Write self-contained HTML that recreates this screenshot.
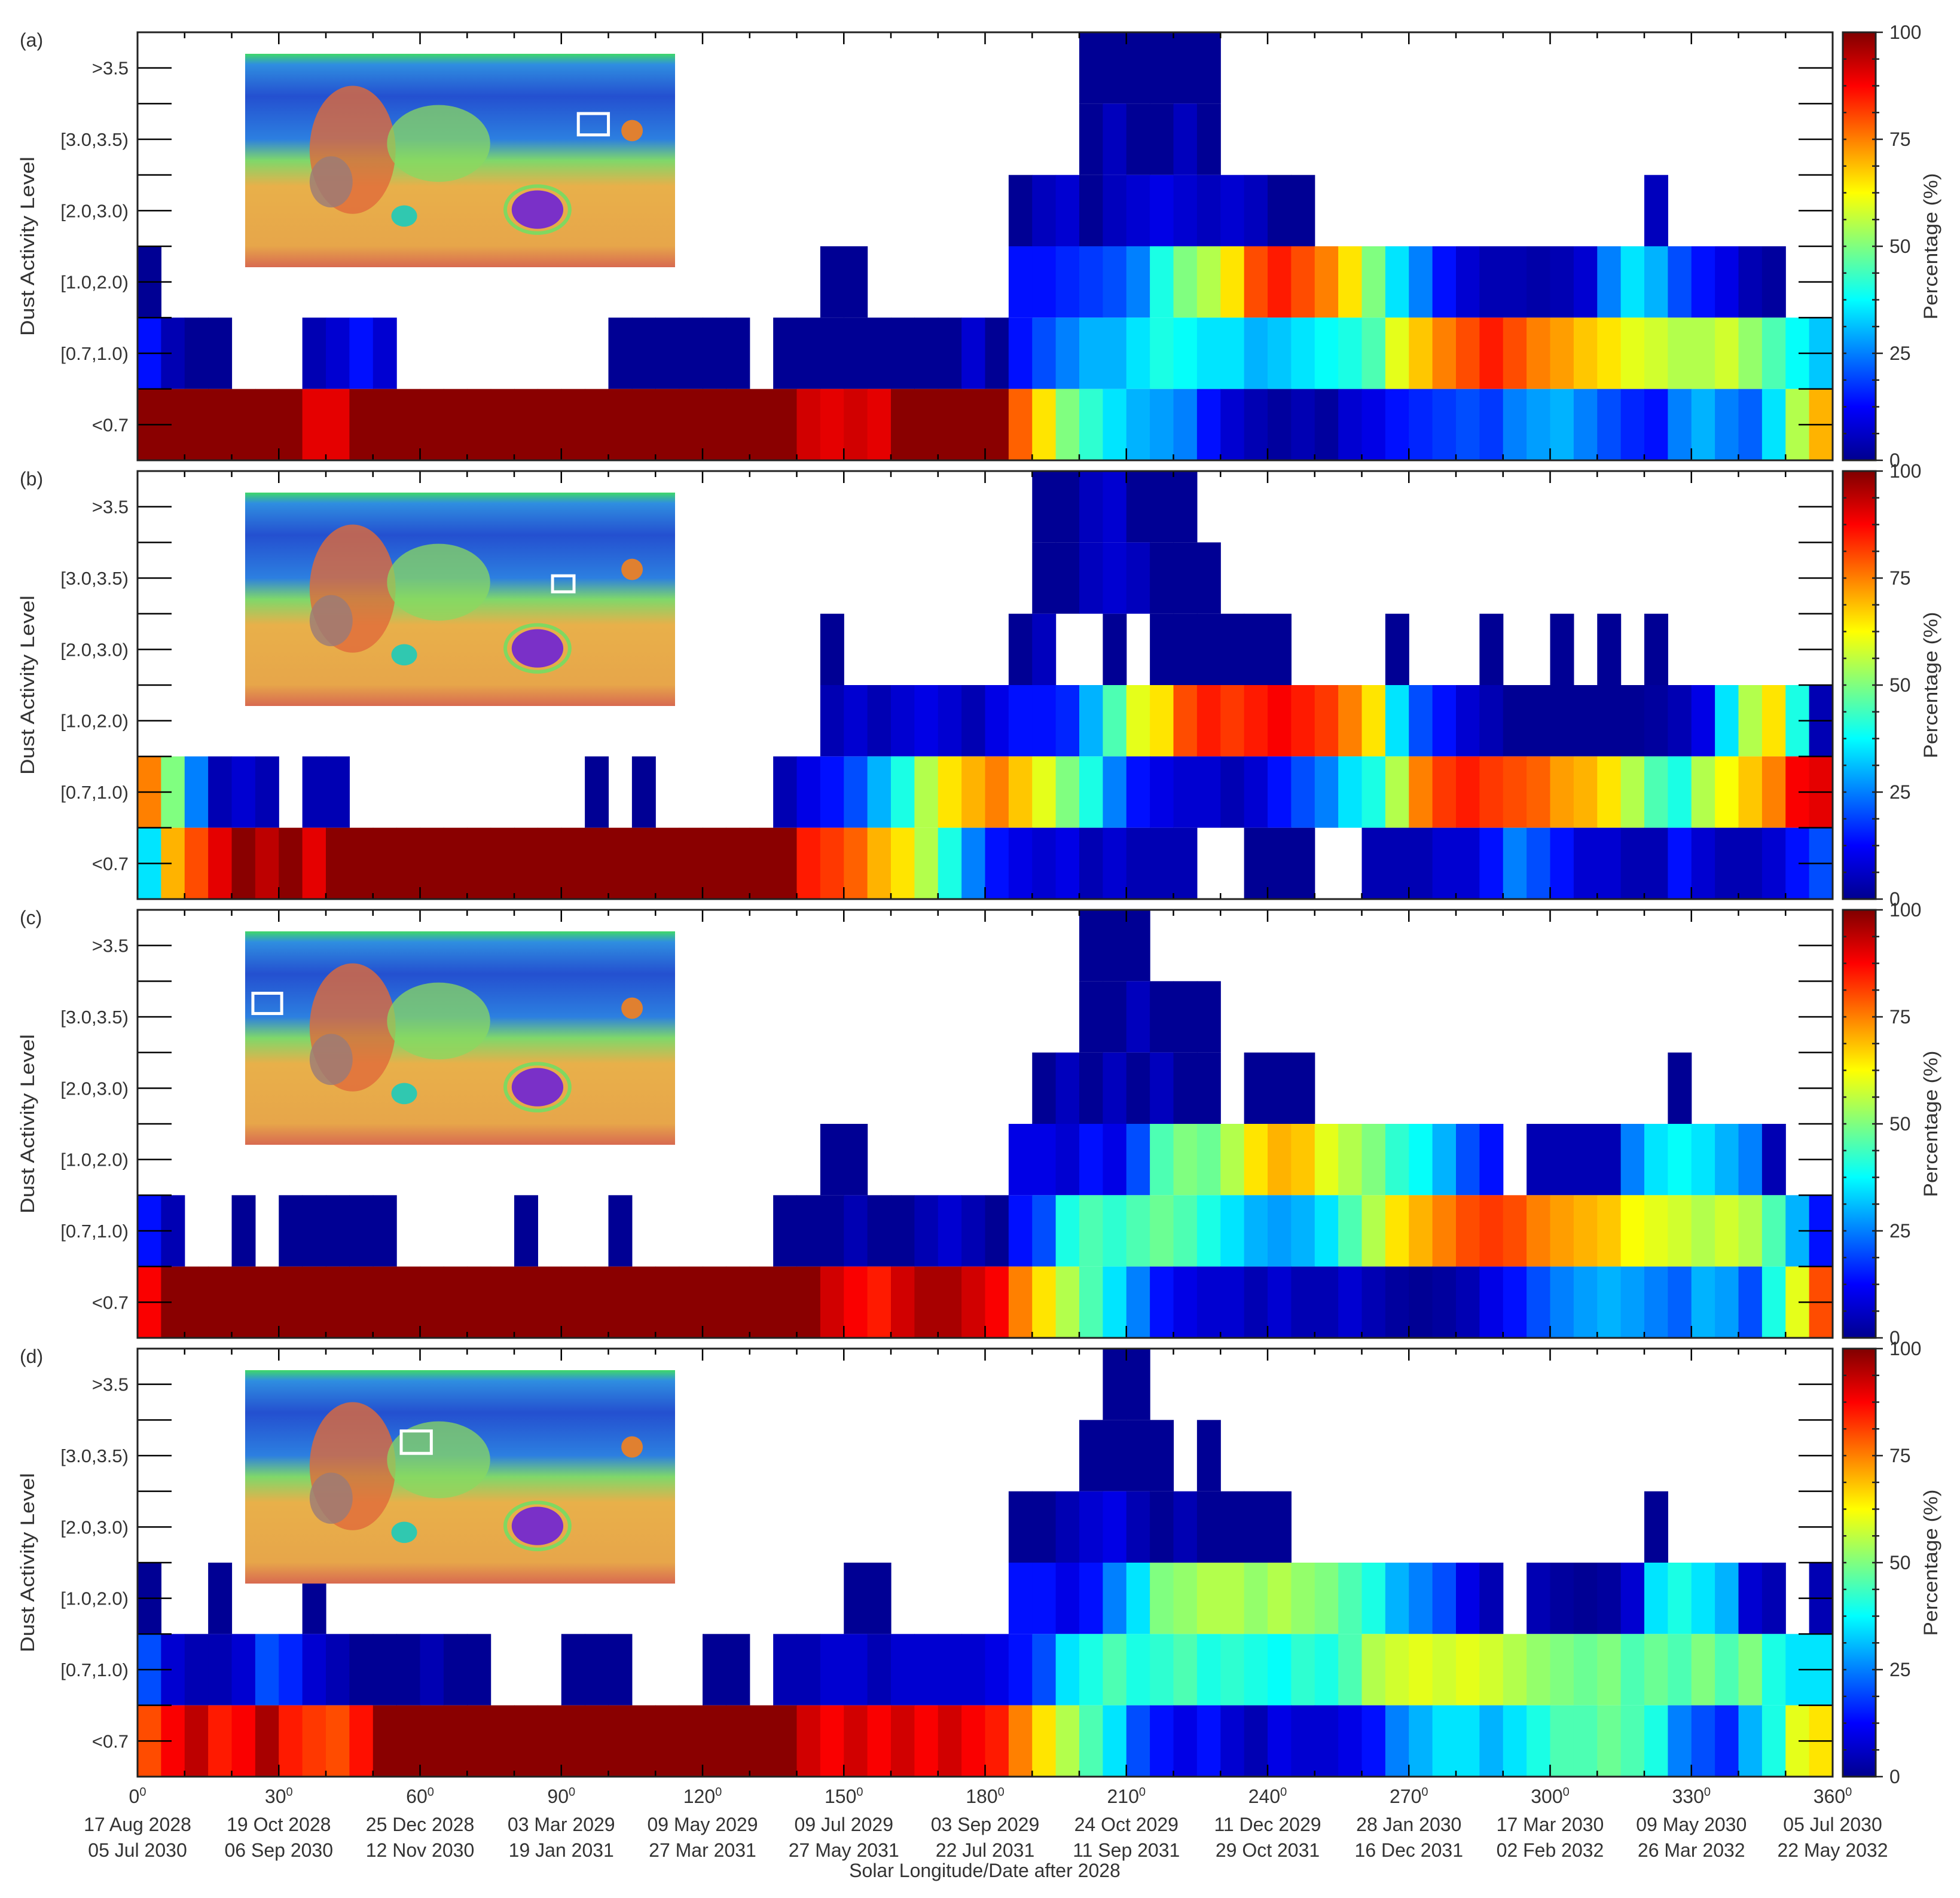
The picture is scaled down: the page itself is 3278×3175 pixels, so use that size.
<!DOCTYPE html>
<html><head><meta charset="utf-8"><title>Dust activity heatmaps</title>
<style>
html,body{margin:0;padding:0;background:#fff;}
svg{display:block;font-family:"Liberation Sans",sans-serif;}
</style></head>
<body>
<svg id="fig" width="3278" height="3175" viewBox="0 0 3278 3175" xmlns="http://www.w3.org/2000/svg">
<defs>
<linearGradient id="mapGrad" x1="0" y1="0" x2="0" y2="1">
<stop offset="0" stop-color="#3fd86a"/><stop offset="0.05" stop-color="#2f8ee0"/><stop offset="0.2" stop-color="#2450d0"/><stop offset="0.4" stop-color="#2c7fe0"/><stop offset="0.5" stop-color="#7fd86a"/><stop offset="0.62" stop-color="#e8b04a"/><stop offset="0.9" stop-color="#e7a64a"/><stop offset="1" stop-color="#d86a50"/>
</linearGradient>
<linearGradient id="cbGrad" x1="0" y1="1" x2="0" y2="0">
<stop offset="0" stop-color="#00008f"/><stop offset="0.125" stop-color="#0000ff"/><stop offset="0.375" stop-color="#00ffff"/><stop offset="0.625" stop-color="#ffff00"/><stop offset="0.875" stop-color="#ff0000"/><stop offset="1" stop-color="#800000"/>
</linearGradient>
</defs>
</svg>
<script>
// categories
const rowLabels = [">3.5","[3.0,3.5)","[2.0,3.0)","[1.0,2.0)","[0.7,1.0)","<0.7"];
const panelLetters = ["(a)","(b)","(c)","(d)"];
const lsTicks = [0,30,60,90,120,150,180,210,240,270,300,330,360];
const dateLine1 = ["17 Aug 2028","19 Oct 2028","25 Dec 2028","03 Mar 2029","09 May 2029","09 Jul 2029","03 Sep 2029","24 Oct 2029","11 Dec 2029","28 Jan 2030","17 Mar 2030","09 May 2030","05 Jul 2030"];
const dateLine2 = ["05 Jul 2030","06 Sep 2030","12 Nov 2030","19 Jan 2031","27 Mar 2031","27 May 2031","22 Jul 2031","11 Sep 2031","29 Oct 2031","16 Dec 2031","02 Feb 2032","26 Mar 2032","22 May 2032"];
const cbTicks = [0,25,50,75,100];
const binWidthDeg = 5;
const _ = null;
// panel (a), rows top->bottom, 72 bins of 5 deg, percentage (null = no data)
const a0 = [_,_,_,_,_,_,_,_,_,_,_,_,_,_,_,_,_,_,_,_,_,_,_,_,_,_,_,_,_,_,_,_,_,_,_,_,_,_,_,_,2,2,2,2,2,2,_,_,_,_,_,_,_,_,_,_,_,_,_,_,_,_,_,_,_,_,_,_,_,_,_,_];
const a1 = [_,_,_,_,_,_,_,_,_,_,_,_,_,_,_,_,_,_,_,_,_,_,_,_,_,_,_,_,_,_,_,_,_,_,_,_,_,_,_,_,2,6,2,2,6,2,_,_,_,_,_,_,_,_,_,_,_,_,_,_,_,_,_,_,_,_,_,_,_,_,_,_];
const a2 = [_,_,_,_,_,_,_,_,_,_,_,_,_,_,_,_,_,_,_,_,_,_,_,_,_,_,_,_,_,_,_,_,_,_,_,_,_,2,6,8,2,6,8,10,8,6,8,6,2,2,_,_,_,_,_,_,_,_,_,_,_,_,_,_,6,_,_,_,_,_,_,_];
const a3 = [2,_,_,_,_,_,_,_,_,_,_,_,_,_,_,_,_,_,_,_,_,_,_,_,_,_,_,_,_,2,2,_,_,_,_,_,_,14,14,16,18,20,25,40,50,55,65,80,85,80,75,65,50,35,25,14,8,5,5,4,5,8,25,35,30,20,14,10,5,3,_,_];
const a4 = [14,5,2,2,_,_,_,5,8,14,8,_,_,_,_,_,_,_,_,_,2,2,2,2,2,2,_,2,2,2,2,2,2,2,2,8,2,14,20,25,30,30,35,40,38,35,35,30,32,35,38,40,45,60,68,75,80,85,80,75,72,68,65,60,58,55,55,58,52,45,38,32];
const a5 = [99,99,99,99,99,99,99,90,90,99,99,99,99,99,99,99,99,99,99,99,99,99,99,99,99,99,99,99,92,90,92,90,99,99,99,99,99,78,65,50,42,35,30,28,25,14,8,5,3,5,3,8,10,14,16,18,20,18,25,28,30,25,20,16,14,25,30,25,22,35,55,70];
// panel (b)
const b0 = [_,_,_,_,_,_,_,_,_,_,_,_,_,_,_,_,_,_,_,_,_,_,_,_,_,_,_,_,_,_,_,_,_,_,_,_,_,_,2,2,6,8,2,2,2,_,_,_,_,_,_,_,_,_,_,_,_,_,_,_,_,_,_,_,_,_,_,_,_,_,_,_];
const b1 = [_,_,_,_,_,_,_,_,_,_,_,_,_,_,_,_,_,_,_,_,_,_,_,_,_,_,_,_,_,_,_,_,_,_,_,_,_,_,2,2,6,8,6,2,2,2,_,_,_,_,_,_,_,_,_,_,_,_,_,_,_,_,_,_,_,_,_,_,_,_,_,_];
const b2 = [_,_,_,_,_,_,_,_,_,_,_,_,_,_,_,_,_,_,_,_,_,_,_,_,_,_,_,_,_,2,_,_,_,_,_,_,_,2,6,_,_,2,_,2,2,2,2,2,2,_,_,_,_,2,_,_,_,2,_,_,2,_,2,_,2,_,_,_,_,_,_,_];
const b3 = [_,_,_,_,_,_,_,_,_,_,_,_,_,_,_,_,_,_,_,_,_,_,_,_,_,_,_,_,_,5,8,5,8,10,8,5,10,14,14,16,30,45,60,65,80,85,82,85,88,85,82,75,65,35,20,14,8,5,2,2,2,2,2,2,3,5,10,35,55,65,40,5];
const b4 = [75,50,25,5,8,5,_,5,5,_,_,_,_,_,_,_,_,_,_,2,_,2,_,_,_,_,_,5,10,14,20,30,40,55,65,70,75,68,60,50,40,25,14,10,8,8,5,8,14,20,25,35,40,55,75,82,85,82,80,78,72,70,65,55,45,40,55,62,68,75,88,90];
const b5 = [35,70,80,90,99,94,99,90,99,99,99,99,99,99,99,99,99,99,99,99,99,99,99,99,99,99,99,99,85,82,78,70,65,55,40,25,14,10,8,10,5,8,5,5,5,_,_,2,2,2,_,_,5,5,5,8,8,14,25,20,14,8,8,5,5,14,8,5,5,8,14,20];
// panel (c)
const c0 = [_,_,_,_,_,_,_,_,_,_,_,_,_,_,_,_,_,_,_,_,_,_,_,_,_,_,_,_,_,_,_,_,_,_,_,_,_,_,_,_,2,2,2,_,_,_,_,_,_,_,_,_,_,_,_,_,_,_,_,_,_,_,_,_,_,_,_,_,_,_,_,_];
const c1 = [_,_,_,_,_,_,_,_,_,_,_,_,_,_,_,_,_,_,_,_,_,_,_,_,_,_,_,_,_,_,_,_,_,_,_,_,_,_,_,_,2,2,6,2,2,2,_,_,_,_,_,_,_,_,_,_,_,_,_,_,_,_,_,_,_,_,_,_,_,_,_,_];
const c2 = [_,_,_,_,_,_,_,_,_,_,_,_,_,_,_,_,_,_,_,_,_,_,_,_,_,_,_,_,_,_,_,_,_,_,_,_,_,_,2,6,2,6,2,6,2,2,_,2,2,2,_,_,_,_,_,_,_,_,_,_,_,_,_,_,_,2,_,_,_,_,_,_];
const c3 = [_,_,_,_,_,_,_,_,_,_,_,_,_,_,_,_,_,_,_,_,_,_,_,_,_,_,_,_,_,2,2,_,_,_,_,_,_,10,10,8,14,10,20,45,50,48,55,65,70,68,60,55,50,42,38,30,20,14,_,5,5,5,5,25,35,38,35,30,25,5,_,_];
const c4 = [14,5,_,_,2,_,2,2,2,2,2,_,_,_,_,_,2,_,_,_,2,_,_,_,_,_,_,2,2,2,5,2,2,5,8,5,2,14,20,40,45,42,45,48,45,40,35,30,28,30,35,45,55,65,70,75,80,82,80,75,72,70,68,62,60,58,55,58,55,45,30,14];
const c5 = [88,99,99,99,99,99,99,99,99,99,99,99,99,99,99,99,99,99,99,99,99,99,99,99,99,99,99,99,99,92,88,85,92,96,96,92,88,75,65,55,45,35,25,14,10,8,8,5,8,5,5,8,5,3,2,3,5,10,14,20,25,28,30,28,25,22,30,28,20,40,60,80];
// panel (d)
const d0 = [_,_,_,_,_,_,_,_,_,_,_,_,_,_,_,_,_,_,_,_,_,_,_,_,_,_,_,_,_,_,_,_,_,_,_,_,_,_,_,_,_,2,2,_,_,_,_,_,_,_,_,_,_,_,_,_,_,_,_,_,_,_,_,_,_,_,_,_,_,_,_,_];
const d1 = [_,_,_,_,_,_,_,_,_,_,_,_,_,_,_,_,_,_,_,_,_,_,_,_,_,_,_,_,_,_,_,_,_,_,_,_,_,_,_,_,2,2,2,2,_,2,_,_,_,_,_,_,_,_,_,_,_,_,_,_,_,_,_,_,_,_,_,_,_,_,_,_];
const d2 = [_,_,_,_,_,_,_,_,_,_,_,_,_,_,_,_,_,_,_,_,_,_,_,_,_,_,_,_,_,_,_,_,_,_,_,_,_,2,2,5,8,10,5,2,5,2,2,2,2,_,_,_,_,_,_,_,_,_,_,_,_,_,_,_,2,_,_,_,_,_,_,_];
const d3 = [2,_,_,2,_,_,_,2,_,_,_,_,_,_,_,_,_,_,_,_,_,_,_,_,_,_,_,_,_,_,2,2,_,_,_,_,_,14,14,10,14,25,35,50,52,55,55,52,55,52,50,45,40,30,25,20,10,5,_,5,3,2,3,8,35,40,35,30,8,5,_,5];
const d4 = [20,8,5,5,8,20,16,8,5,2,2,2,5,2,2,_,_,_,2,2,2,_,_,_,2,2,_,5,5,8,8,5,8,8,8,8,10,14,20,35,40,45,40,42,45,40,42,40,38,42,40,45,55,58,60,58,60,58,55,52,50,48,50,45,48,45,50,45,50,40,35,35];
const d5 = [80,88,94,85,88,96,85,82,80,86,99,99,99,99,99,99,99,99,99,99,99,99,99,99,99,99,99,99,92,88,92,88,92,88,92,88,85,75,65,55,45,35,20,14,10,14,8,5,10,8,8,10,14,25,30,35,35,30,35,40,45,45,48,45,40,25,20,16,30,40,60,65];

const panelRows = [[a0,a1,a2,a3,a4,a5],[b0,b1,b2,b3,b4,b5],[c0,c1,c2,c3,c4,c5],[d0,d1,d2,d3,d4,d5]];
// inset map marker boxes (relative to map, fraction units)
const boxX = [0.775, 0.715, 0.018, 0.363];
const boxY = [0.28, 0.39, 0.29, 0.285];
const boxW = [0.07, 0.05, 0.067, 0.07];
const boxH = [0.10, 0.075, 0.095, 0.105];

const NS = "http://www.w3.org/2000/svg";
const svg = document.getElementById("fig");
const X0 = 230, X1 = 3065, PH = 716;
const panelTops = [54, 788, 1522, 2256];
const xScale = ls => X0 + (ls / 360) * (X1 - X0);
const rowH = PH / rowLabels.length;
function jet(v){
  const t = Math.max(0, Math.min(1, v / 100));
  const c = x => Math.round(255 * Math.max(0, Math.min(1, 1.5 - Math.abs(4 * t - x))));
  return `rgb(${c(3)},${c(2)},${c(1)})`;
}
function el(tag, attrs, parent){
  const e = document.createElementNS(NS, tag);
  for (const k in attrs) e.setAttribute(k, attrs[k]);
  (parent || svg).appendChild(e);
  return e;
}
function txt(s, attrs, parent){ const t = el("text", attrs, parent); t.textContent = s; return t; }

panelRows.forEach((rows, p) => {
  const top = panelTops[p];
  const g = el("g", {});
  
  
  rows.forEach((vals, r) => {
    vals.forEach((v, k) => {
      if (v === null) return;
      const xa = xScale(k * binWidthDeg), xb = xScale((k + 1) * binWidthDeg);
      const c = el("rect", {x: xa, y: top + r * rowH, width: xb - xa + 0.6, height: rowH, fill: jet(v)}, g);
      
      
    });
  });
  const mx = 410, my = top + 36, mw = 719, mh = 357;
  const mg = el("g", {}, g);
  
  
  el("rect", {x: mx, y: my, width: mw, height: mh, fill: "url(#mapGrad)"}, mg);
  el("ellipse", {cx: mx + 0.25*mw, cy: my + 0.45*mh, rx: 0.10*mw, ry: 0.30*mh, fill: "#e06a3a", opacity: 0.8}, mg);
  el("ellipse", {cx: mx + 0.20*mw, cy: my + 0.60*mh, rx: 0.05*mw, ry: 0.12*mh, fill: "#9a7a78", opacity: 0.8}, mg);
  el("ellipse", {cx: mx + 0.45*mw, cy: my + 0.42*mh, rx: 0.12*mw, ry: 0.18*mh, fill: "#8ad860", opacity: 0.75}, mg);
  el("ellipse", {cx: mx + 0.68*mw, cy: my + 0.73*mh, rx: 0.06*mw, ry: 0.09*mh, fill: "#7a30c8"}, mg);
  el("ellipse", {cx: mx + 0.68*mw, cy: my + 0.73*mh, rx: 0.075*mw, ry: 0.11*mh, fill: "none", stroke: "#80d860", "stroke-width": 6}, mg);
  el("ellipse", {cx: mx + 0.37*mw, cy: my + 0.76*mh, rx: 0.03*mw, ry: 0.05*mh, fill: "#30c8b0"}, mg);
  el("ellipse", {cx: mx + 0.90*mw, cy: my + 0.36*mh, rx: 0.025*mw, ry: 0.05*mh, fill: "#e08030"}, mg);
  const bx = el("rect", {x: mx + boxX[p]*mw, y: my + boxY[p]*mh, width: boxW[p]*mw, height: boxH[p]*mh, fill: "none", stroke: "#fff", "stroke-width": 5}, mg);
  
  
  const tg = el("g", {stroke: "#000", "stroke-width": 2.5}, g);
  
  
  for (let i = 1; i < 12; i++) {
    const y = top + i * rowH / 2;
    el("line", {x1: X0, x2: X0 + 57, y1: y, y2: y}, tg);
    el("line", {x1: X1 - 57, x2: X1, y1: y, y2: y}, tg);
  }
  for (let d = 10; d < 360; d += 10) {
    const x = xScale(d), L = d % 30 === 0 ? 20 : 10;
    el("line", {x1: x, x2: x, y1: top, y2: top + L}, tg);
    el("line", {x1: x, x2: x, y1: top + PH, y2: top + PH - L}, tg);
  }
  const fr = el("rect", {x: X0, y: top, width: X1 - X0, height: PH, fill: "none", stroke: "#222", "stroke-width": 3}, g);
  
  
  rowLabels.forEach((lab, r) => {
    const t = txt(lab, {x: 215, y: top + (r + 0.5) * rowH + 11, "text-anchor": "end", "font-size": 31, fill: "#333"}, g);
    
    
  });
  const pl = txt(panelLetters[p], {x: 33, y: top + 24, "font-size": 32, fill: "#333"}, g);
  
  
  const yt = txt("Dust Activity Level", {x: 0, y: 0, transform: `translate(57 ${top + PH/2}) rotate(-90)`, "text-anchor": "middle", "font-size": 32, fill: "#333", "textLength": 300, "lengthAdjust": "spacingAndGlyphs"}, g);
  
  
  const cx0 = 3082, cx1 = 3137;
  const cb = el("rect", {x: cx0, y: top, width: cx1 - cx0, height: PH, fill: "url(#cbGrad)", stroke: "#222", "stroke-width": 3}, g);
  
  
  for (let v = 0; v <= 100; v += 6.25) {
    const y = top + PH - v / 100 * PH, major = v % 25 === 0;
    el("line", {x1: cx1 - 6, x2: cx1 + (major ? 12 : 6), y1: y, y2: y, stroke: "#222", "stroke-width": 2.5}, g);
    el("line", {x1: cx0, x2: cx0 + 6, y1: y, y2: y, stroke: "#222", "stroke-width": 2.5}, g);
  }
  cbTicks.forEach(v => {
    const t = txt(String(v), {x: 3160, y: top + PH - v / 100 * PH + 11, "font-size": 32, fill: "#333"}, g);
    
    
  });
  const ct = txt("Percentage (%)", {x: 0, y: 0, transform: `translate(3240 ${top + PH/2}) rotate(-90)`, "text-anchor": "middle", "font-size": 32, fill: "#333", "textLength": 245, "lengthAdjust": "spacingAndGlyphs"}, g);
  
  
});

lsTicks.forEach((ls, i) => {
  const x = xScale(ls);
  const t = txt("", {x: x, y: 3016, "text-anchor": "middle", "font-size": 32, fill: "#333"});
  
  
  const t1 = document.createElementNS(NS, "tspan"); t1.textContent = String(ls); t.appendChild(t1);
  const t2 = document.createElementNS(NS, "tspan"); t2.setAttribute("dy", "-12"); t2.setAttribute("font-size", "20"); t2.textContent = "0"; t.appendChild(t2);
  const d1 = txt(dateLine1[i], {x: x, y: 3063, "text-anchor": "middle", "font-size": 32, fill: "#333"});
  
  
  const d2 = txt(dateLine2[i], {x: x, y: 3106, "text-anchor": "middle", "font-size": 32, fill: "#333"});
  
  
});
const xt = txt("Solar Longitude/Date after 2028", {x: 1647, y: 3140, "text-anchor": "middle", "font-size": 32, fill: "#333"});


</script>
</body></html>
